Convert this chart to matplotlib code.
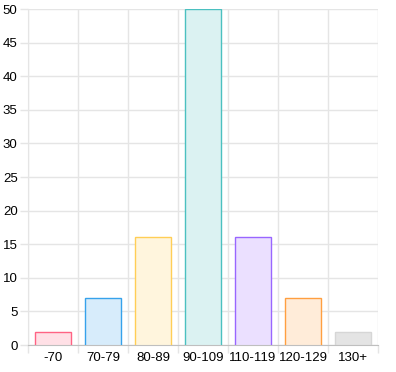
import matplotlib.pyplot as plt
import numpy as np

labels = ["-70", "70-79", "80-89", "90-109", "110-119", "120-129", "130+"]
counts = [2, 7, 16, 50, 16, 7, 2]
borders = ["#ff6384", "#36a2eb", "#ffce56", "#4bc0c0", "#9966ff", "#ff9f40", "#d6d6d6"]
fills = ["#ffe0e6", "#d7ecfb", "#fff5dd", "#dbf2f2", "#ebe0ff", "#ffecd9", "#e4e4e4"]

plt.rcParams['font.family'] = ['Liberation Sans', 'DejaVu Sans']

fig = plt.figure(figsize=(3.96, 3.72), dpi=100)
ax = fig.add_axes([28 / 396, (372 - 345) / 372, 350 / 396, 336 / 372])

x = np.arange(len(labels))
w = 0.72
grid_c = '#e5e5e5'

ax.bar(x, counts, width=w, color=fills, linewidth=0, zorder=2)
for xi, v, c in zip(x, counts, borders):
    ax.plot([xi - w / 2, xi - w / 2, xi + w / 2, xi + w / 2], [0, v, v, 0],
            color=c, lw=1, zorder=3, solid_joinstyle='miter')

ax.set_xlim(-0.5, len(labels) - 0.5)
ax.set_ylim(0, 50)
ax.set_yticks(np.arange(0, 51, 5))
ax.set_xticks(x)
ax.set_xticklabels(labels)
ax.set_xticks(np.arange(-0.5, len(labels), 1), minor=True)

# tick lengths / pads are in points (1pt = 1.39px here)
ax.tick_params(axis='x', which='major', length=0, pad=5, labelsize=9.5, labelcolor='black')
ax.tick_params(axis='x', which='minor', length=6, color=grid_c, width=1)
ax.tick_params(axis='y', length=6, color=grid_c, width=1, pad=1.5, labelsize=9.5, labelcolor='black')
ax.grid(True, which='minor', axis='x', color=grid_c, lw=1)
ax.grid(True, which='major', axis='y', color=grid_c, lw=1)
ax.grid(False, which='major', axis='x')

for s in ['top', 'right']:
    ax.spines[s].set_visible(False)
ax.spines['left'].set_color(grid_c)
ax.spines['bottom'].set_color('#bfbfbf')
ax.set_axisbelow(True)

fig.savefig("out.png", dpi=100)
